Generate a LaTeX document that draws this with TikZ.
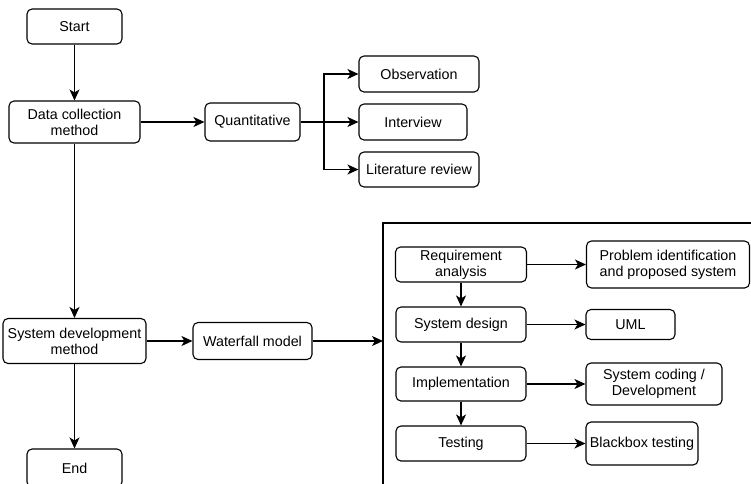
\documentclass[tikz,border=0pt]{standalone}
\usepackage{fontspec}
\setmainfont{Liberation Sans}
\usetikzlibrary{arrows.meta}
\begin{document}
\begin{tikzpicture}[x=1pt,y=-1pt,line width=1.1pt,
	box/.style={draw,rounded corners=5pt,align=center,inner sep=1pt,font=\fontsize{14.3}{16}\selectfont},
	arr/.style={-{Stealth[length=11pt,width=10pt,inset=3pt]}}]
	\clip (0,0) rectangle (751,483);
	% main column
	\node[box,minimum width=95pt,minimum height=35pt] (start) at (74.5,26.5) {Start};
	\node[box,minimum width=131pt,minimum height=42pt] (datacoll) at (74.5,122) {Data collection\\method};
	\node[box,minimum width=143pt,minimum height=45pt] (sysdev) at (74.5,341) {System development\\method};
	\node[box,minimum width=95pt,minimum height=38pt] (finish) at (74.5,468) {End};
	\draw[arr] (start) -- (datacoll);
	\draw[arr] (datacoll) -- (sysdev);
	\draw[arr] (sysdev) -- (finish);
	% data collection
	\node[box,minimum width=95pt,minimum height=38pt] (quant) at (252.5,122) {Quantitative};
	\node[box,minimum width=120pt,minimum height=36pt] (obs) at (419,74) {Observation};
	\node[box,minimum width=108pt,minimum height=36pt] (intv) at (413,122) {Interview};
	\node[box,minimum width=120pt,minimum height=35pt] (litrev) at (419,169.5) {Literature review};
	\coordinate (fork) at (324,122);
	\draw[arr] (datacoll) -- (quant);
	\draw (quant) -- (fork);
	\draw[arr] (fork) |- (obs.west);
	\draw[arr] (fork) -- (intv);
	\draw[arr] (fork) |- (litrev.west);
	% system development
	\node[box,minimum width=119pt,minimum height=37pt] (waterfall) at (252.5,341) {Waterfall model};
	\coordinate (frameL) at (383,341);
	\draw[arr] (sysdev) -- (waterfall);
	\draw[arr] (waterfall) -- (frameL);
	\draw (383,495) -- (383,223) -- (760,223);
	% waterfall phases
	\node[box,minimum width=131pt,minimum height=35pt] (reqan) at (461,264.5) {Requirement\\analysis};
	\node[box,minimum width=130pt,minimum height=35pt] (sysdes) at (461,324.5) {System design};
	\node[box,minimum width=130pt,minimum height=34pt] (impl) at (461,384) {Implementation};
	\node[box,minimum width=130pt,minimum height=35pt] (testing) at (461,443.5) {Testing};
	\node[box,minimum width=163pt,minimum height=47pt] (probid) at (668,264.5) {Problem identification\\and proposed system};
	\node[box,minimum width=89pt,minimum height=30pt] (uml) at (630.5,324.5) {UML};
	\node[box,minimum width=136pt,minimum height=42pt] (coding) at (654,384) {System coding /\\Development};
	\node[box,minimum width=112pt,minimum height=43pt] (blackbox) at (642,443.5) {Blackbox testing};
	\draw[arr] (reqan) -- (sysdes);
	\draw[arr] (sysdes) -- (impl);
	\draw[arr] (impl) -- (testing);
	\draw[arr] (reqan) -- (probid);
	\draw[arr] (sysdes) -- (uml);
	\draw[arr] (impl) -- (coding);
	\draw[arr] (testing) -- (blackbox);
\end{tikzpicture}
\end{document}
